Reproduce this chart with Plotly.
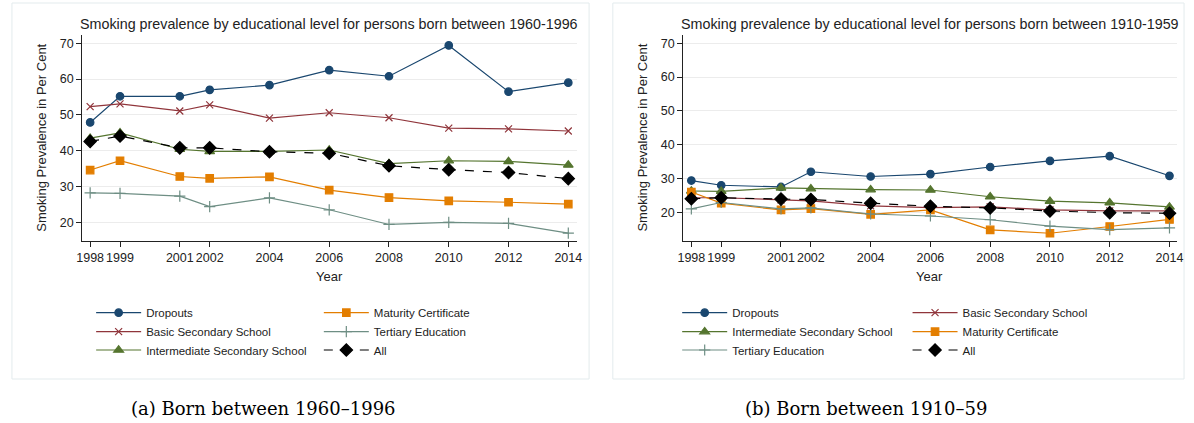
import plotly.graph_objects as go

W, H = 1194, 423

years = [1998, 1999, 2001, 2002, 2004, 2006, 2008, 2010, 2012, 2014]
y_ticks = [20, 30, 40, 50, 60, 70]

series_names = ["Dropouts", "Basic Secondary School", "Intermediate Secondary School",
                "Maturity Certificate", "Tertiary Education", "All"]

# Born between 1960-1996
young_dropouts = [47.9, 55.2, 55.2, 57.0, 58.3, 62.5, 60.8, 69.4, 56.5, 59.0]
young_basic = [52.3, 53.1, 51.1, 52.8, 49.1, 50.6, 49.2, 46.3, 46.1, 45.5]
young_inter = [43.5, 45.0, 40.4, 39.8, 39.8, 40.2, 36.4, 37.2, 37.0, 36.0]
young_maturity = [34.6, 37.2, 32.8, 32.3, 32.7, 29.0, 26.9, 26.0, 25.6, 25.1]
young_tertiary = [28.2, 28.1, 27.3, 24.4, 26.8, 23.5, 19.4, 20.0, 19.7, 17.0]
young_all = [42.6, 44.1, 40.8, 40.8, 39.7, 39.3, 35.8, 34.7, 33.9, 32.2]

# Born between 1910-1959
old_dropouts = [29.4, 28.0, 27.5, 32.0, 30.6, 31.3, 33.4, 35.2, 36.6, 30.8]
old_basic = [24.3, 24.3, 23.7, 23.4, 21.9, 21.4, 21.6, 20.7, 20.4, 20.4]
old_inter = [26.3, 26.2, 27.2, 27.0, 26.7, 26.6, 24.6, 23.3, 22.8, 21.6]
old_maturity = [26.0, 22.7, 20.7, 21.1, 19.4, 20.7, 14.8, 13.8, 15.8, 17.9]
old_tertiary = [21.0, 22.9, 21.0, 21.3, 19.5, 18.9, 17.8, 15.9, 14.9, 15.4]
old_all = [24.0, 24.3, 23.9, 23.8, 22.7, 21.8, 21.3, 20.4, 19.9, 19.7]

panel_titles = ["Smoking prevalence by educational level for persons born between 1960-1996",
                "Smoking prevalence by educational level for persons born between 1910-1959"]
captions = ["(a) Born between 1960\u20131996", "(b) Born between 1910\u201359"]
y_title = "Smoking Prevalence in Per Cent"
x_title = "Year"

young = [young_dropouts, young_basic, young_inter, young_maturity, young_tertiary, young_all]
old = [old_dropouts, old_basic, old_inter, old_maturity, old_tertiary, old_all]

colors = ["#1a476f", "#90353b", "#55752f", "#e37e00", "#6e8e84", "#000000"]
symbols = ["circle", "x-thin-open", "triangle-up", "square", "cross-thin-open", "diamond"]
msizes = [7.5, 7, 8.5, 7.5, 8, 9.5]
dashes = ["solid", "solid", "solid", "solid", "solid", "dash"]

FONT = "Liberation Sans, Arial, sans-serif"
TXT = "#222222"


def px_x(p):
    return p / W


def px_y(p):
    return 1 - p / H


fig = go.Figure()

# legend slots: (symbol start x px, row y px)
rows = [312.7, 331.7, 350.0]
left_slots = {0: (96, rows[0]), 1: (96, rows[1]), 2: (96, rows[2]),
              3: (326, rows[0]), 4: (326, rows[1]), 5: (326, rows[2])}
right_slots = {0: (688, rows[0]), 1: (920.7, rows[0]), 2: (688, rows[1]),
               3: (920.7, rows[1]), 4: (688, rows[2]), 5: (920.7, rows[2])}

legend_layouts = {}
lid = 1
for panel, (data, slots, xa, ya) in enumerate([(young, left_slots, "x", "y"),
                                                (old, right_slots, "x2", "y2")]):
    for i, name in enumerate(series_names):
        lname = "legend" if lid == 1 else f"legend{lid}"
        sx, sy = slots[i]
        legend_layouts[lname] = dict(
            x=px_x(sx - 10), y=px_y(sy), xanchor="left", yanchor="middle",
            bgcolor="rgba(0,0,0,0)", borderwidth=0,
            font=dict(family=FONT, size=11.5, color=TXT),
            itemwidth=45, tracegroupgap=0,
        )
        sym = symbols[i]
        fig.add_trace(go.Scatter(
            x=years, y=data[i], name=name, mode="lines+markers",
            xaxis=xa, yaxis=ya, legend=lname,
            line=dict(color=colors[i], width=1.2, dash=dashes[i]),
            marker=dict(symbol=sym, size=msizes[i], color=colors[i],
                        line=dict(color=colors[i], width=1.2)),
            hoverinfo="skip",
        ))
        lid += 1

axis_common = dict(
    showline=True, linecolor=TXT, linewidth=1, ticks="outside", ticklen=5,
    tickcolor=TXT, tickwidth=1, tickfont=dict(family=FONT, size=12.5, color=TXT),
    zeroline=False, mirror=False,
)

fig.update_layout(
    width=W, height=H, margin=dict(l=0, r=0, t=0, b=0),
    paper_bgcolor="white", plot_bgcolor="white", showlegend=True,
    xaxis=dict(domain=[px_x(77), px_x(577)], range=[1997.735, 2014.298],
               tickvals=years, showgrid=False, anchor="y", **axis_common),
    yaxis=dict(domain=[px_y(241), px_y(35)], range=[14.78, 72.32],
               tickvals=y_ticks, showgrid=True, gridcolor="#ececec", gridwidth=1,
               anchor="x", **axis_common),
    xaxis2=dict(domain=[px_x(684), px_x(1183)], range=[1997.725, 2014.255],
                tickvals=years, showgrid=False, anchor="y2", **axis_common),
    yaxis2=dict(domain=[px_y(241), px_y(35)], range=[11.51, 72.46],
                tickvals=y_ticks, showgrid=True, gridcolor="#ececec", gridwidth=1,
                anchor="x2", **axis_common),
    **legend_layouts,
)

# panel frames
for x0, x1 in [(6, 589), (613, 1190)]:
    fig.add_shape(type="rect", xref="paper", yref="paper",
                  x0=px_x(x0), x1=px_x(x1), y0=px_y(379), y1=px_y(3),
                  line=dict(color="#e3ebed", width=1), fillcolor="rgba(0,0,0,0)", layer="below")

ann = []
# titles
for cx, t in [(326.5, panel_titles[0]), (933.5, panel_titles[1])]:
    ann.append(dict(x=px_x(cx), y=px_y(24), text=t, showarrow=False, xref="paper", yref="paper",
                    xanchor="center", yanchor="middle", font=dict(family=FONT, size=14.3, color=TXT)))
# y titles
for cx in [35, 642]:
    ann.append(dict(x=px_x(cx), y=px_y(138), text=y_title, textangle=-90, showarrow=False,
                    xref="paper", yref="paper", xanchor="center", yanchor="middle",
                    font=dict(family=FONT, size=13, color=TXT)))
# x titles
for cx in [326.7, 933]:
    ann.append(dict(x=px_x(cx), y=px_y(276.5), text=x_title, showarrow=False,
                    xref="paper", yref="paper", xanchor="center", yanchor="middle",
                    font=dict(family=FONT, size=13, color=TXT)))
# captions
for cx, t in [(260, captions[0]), (868.7, captions[1])]:
    ann.append(dict(x=px_x(cx), y=px_y(408), text=t, showarrow=False,
                    xref="paper", yref="paper", xanchor="center", yanchor="middle",
                    font=dict(family="DejaVu Serif, serif", size=18, color="#000000")))
fig.update_layout(annotations=ann)

fig.write_html("out.html", config={"displayModeBar": False},
               post_script="document.body.style.margin='0px';document.body.style.overflow='hidden';")
